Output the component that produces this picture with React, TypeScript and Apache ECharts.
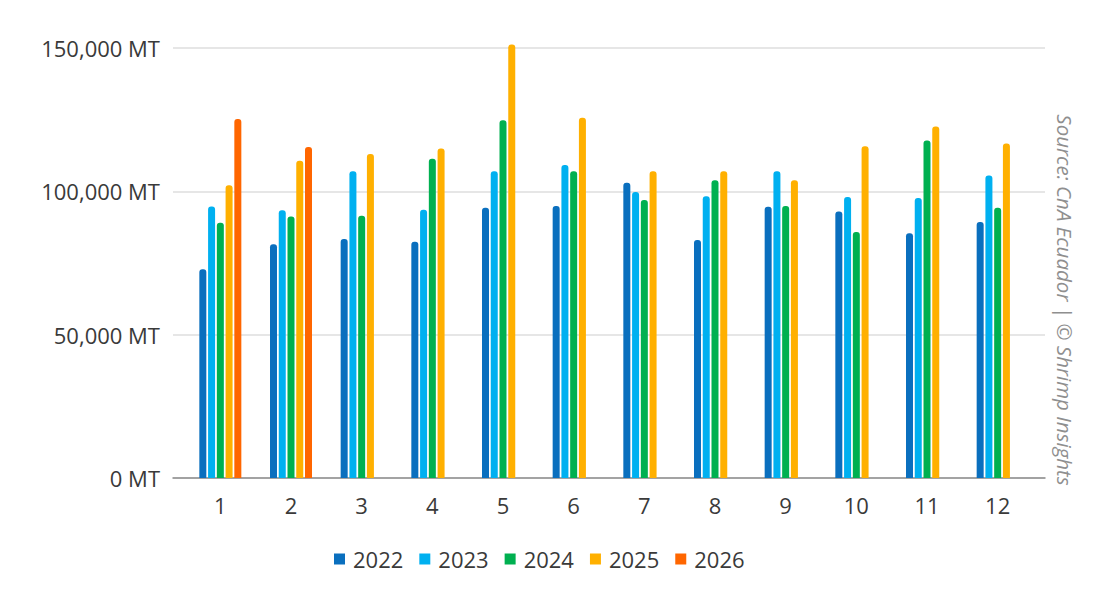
import React, { useEffect, useRef } from "react";
import * as echarts from "echarts";

const months = ["1", "2", "3", "4", "5", "6", "7", "8", "9", "10", "11", "12"];
const years = ["2022", "2023", "2024", "2025", "2026"];
const v2022 = [72800, 81500, 83400, 82400, 94300, 94900, 103000, 83000, 94600, 93000, 85400, 89300];
const v2023 = [94700, 93400, 107000, 93600, 107000, 109200, 99800, 98300, 107000, 98000, 97700, 105500];
const v2024 = [89000, 91200, 91500, 111400, 124800, 107000, 97000, 103900, 94900, 85800, 117700, 94300];
const v2025 = [102100, 110700, 113000, 114900, 151200, 125700, 107000, 107000, 103900, 115700, 122600, 116700];
const v2026 = [125200, 115500, null, null, null, null, null, null, null, null, null, null];
const yTicks = [0, 50000, 100000, 150000];
const colors = ["#0A6FBE", "#00B0F0", "#00B050", "#FFB000", "#FF6600"];
const sourceText = "Source: CnA Ecuador | © Shrimp Insights";

const FONT = "'Open Sans', 'Noto Sans', sans-serif";

export default function App() {
  const ref = useRef<HTMLDivElement>(null);
  useEffect(() => {
    if (!ref.current) return;
    const chart = echarts.init(ref.current, undefined, { renderer: "svg" });
    const seriesData = [v2022, v2023, v2024, v2025, v2026];
    chart.setOption({
      animation: false,
      backgroundColor: "#ffffff",
      textStyle: { fontFamily: FONT },
      grid: [
        { left: 185, right: 85, top: 48, height: 430 },
        { left: 173, right: 73, top: 48, height: 430 },
      ],
      legend: {
        data: years,
        left: 329,
        top: 543,
        icon: "rect",
        itemWidth: 11,
        itemHeight: 11,
        itemGap: 16,
        textStyle: { fontSize: 22, color: "#3a3a3a", fontFamily: FONT, padding: [0, 0, 0, 3] },
      },
      xAxis: [
        {
          gridIndex: 0,
          type: "category",
          data: months,
          axisLine: { show: false },
          axisTick: { show: false },
          axisLabel: { fontSize: 22, color: "#3a3a3a", margin: 16, fontFamily: FONT },
        },
        {
          gridIndex: 1,
          type: "value",
          min: 0,
          max: 1,
          axisLine: { show: true, lineStyle: { color: "#8c8c8c", width: 1.5 } },
          axisTick: { show: false },
          axisLabel: { show: false },
          splitLine: { show: false },
        },
      ],
      yAxis: [
        {
          gridIndex: 0,
          type: "value",
          min: yTicks[0],
          max: yTicks[yTicks.length - 1],
          interval: 50000,
          show: false,
          splitLine: { show: false },
        },
        {
          gridIndex: 1,
          type: "value",
          min: yTicks[0],
          max: yTicks[yTicks.length - 1],
          interval: 50000,
          axisLine: { show: false },
          axisTick: { show: false },
          axisLabel: {
            fontSize: 22,
            color: "#3a3a3a",
            margin: 13,
            fontFamily: FONT,
            formatter: (v: number) => v.toLocaleString("en-US") + " MT",
          },
          splitLine: { show: true, lineStyle: { color: "#dedede", width: 1.5 } },
        },
      ],
      series: years.map((y, i) => ({
        name: y,
        type: "bar",
        xAxisIndex: 0,
        yAxisIndex: 0,
        data: seriesData[i],
        barWidth: 7,
        barGap: "25%",
        clip: false,
        itemStyle: { color: colors[i], borderRadius: [3, 3, 0, 0] },
      })),
      graphic: [
        {
          type: "text",
          x: 1065,
          y: 300,
          rotation: -Math.PI / 2,
          style: {
            text: sourceText,
            fill: "#8f8f8f",
            fontSize: 20.5,
            fontStyle: "italic",
            fontFamily: FONT,
            align: "center",
            verticalAlign: "middle",
          },
        },
      ],
    });
    return () => chart.dispose();
  }, []);
  return (
    <div
      ref={ref}
      style={{ position: "fixed", left: 0, top: 0, width: 1118, height: 615, background: "#fff" }}
    />
  );
}
